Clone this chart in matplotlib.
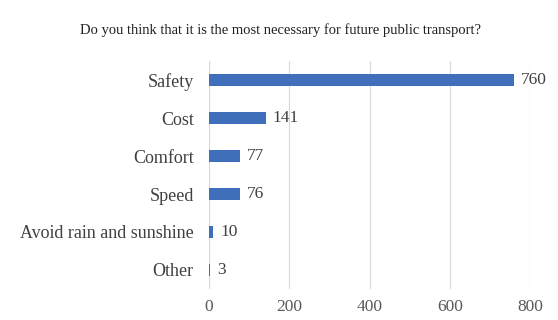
import matplotlib.pyplot as plt

categories = ['Safety', 'Cost', 'Comfort', 'Speed', 'Avoid rain and sunshine', 'Other']
counts = [760, 141, 77, 76, 10, 3]
ticks = [0, 200, 400, 600, 800]

plt.rcParams['font.family'] = ['Liberation Serif', 'DejaVu Serif']

fig = plt.figure(figsize=(5.58, 3.2), dpi=100)
ax = fig.add_axes([0.3746, 0.097, 0.5754, 0.712])

ypos = list(range(len(categories)))
ax.barh(ypos, counts, height=0.32, color='#3F6FBA', zorder=3)
for y, v in zip(ypos, counts):
    ax.text(v + 18, y, str(v), va='center', ha='left', fontsize=12.5, color='#404040')

ax.set_yticks(ypos)
ax.set_yticklabels(categories, fontsize=13, color='#404040')
ax.set_ylim(len(categories) - 0.5, -0.5)
ax.set_xlim(0, 800)
ax.set_xticks(ticks)
ax.set_xticklabels([str(t) for t in ticks], fontsize=12.5, color='#595959')
ax.tick_params(axis='y', length=0, pad=11)
ax.tick_params(axis='x', length=0, pad=7)
ax.grid(axis='x', color='#d9d9d9', linewidth=0.8, zorder=0)
for s in ax.spines.values():
    s.set_visible(False)
ax.axvline(0, color='#d9d9d9', linewidth=0.8, zorder=0)

fig.text(0.502, 0.906, 'Do you think that it is the most necessary for future public transport?',
         ha='center', va='center', fontsize=10.5, color='#202020')

fig.savefig('out.png', dpi=100)
